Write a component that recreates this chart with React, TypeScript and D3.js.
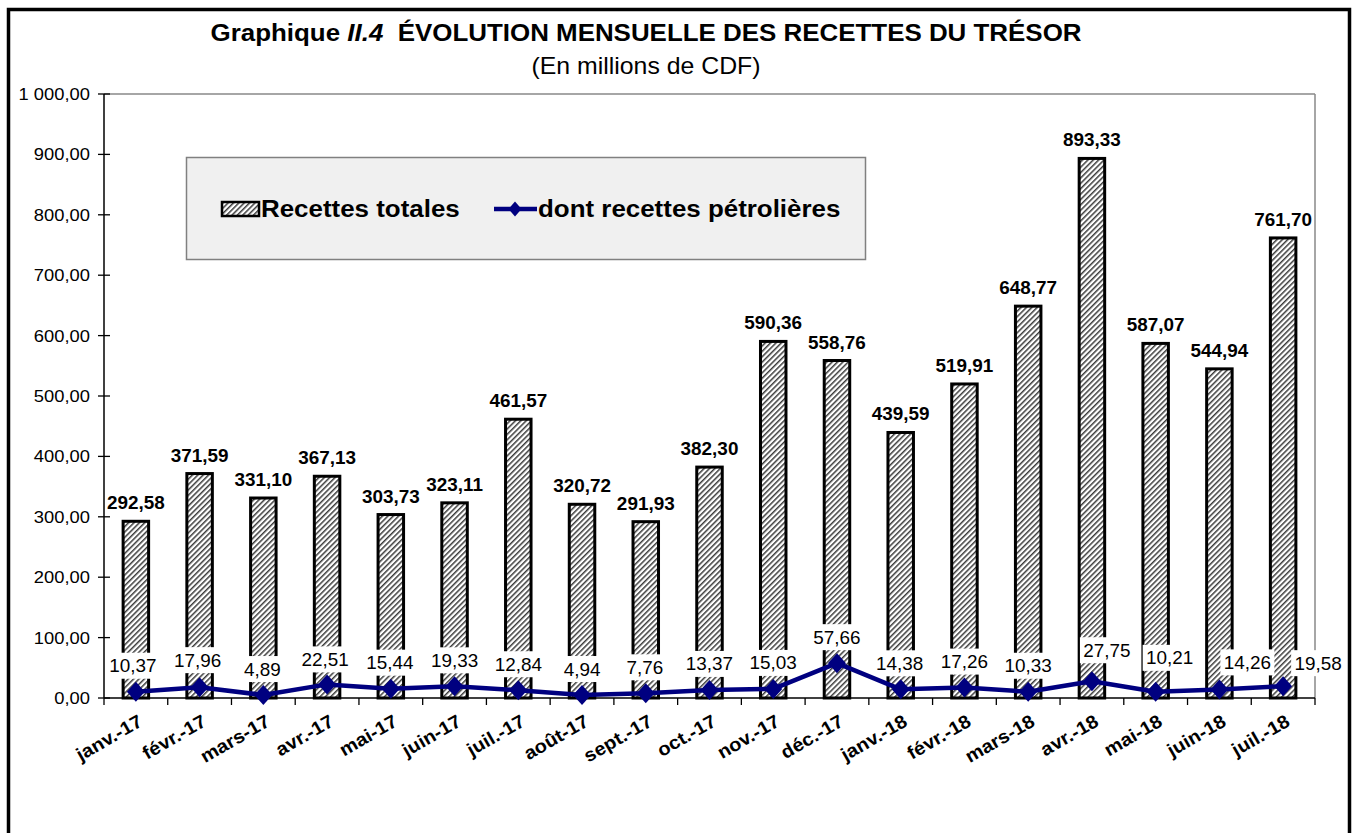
import React from "react";
import * as d3 from "d3";

const categories = ["janv.-17","févr.-17","mars-17","avr.-17","mai-17","juin-17","juil.-17","août-17","sept.-17","oct.-17","nov.-17","déc.-17","janv.-18","févr.-18","mars-18","avr.-18","mai-18","juin-18","juil.-18"];
const totalRevenue = [292.58,371.59,331.10,367.13,303.73,323.11,461.57,320.72,291.93,382.30,590.36,558.76,439.59,519.91,648.77,893.33,587.07,544.94,761.70];
const oilRevenue = [10.37,17.96,4.89,22.51,15.44,19.33,12.84,4.94,7.76,13.37,15.03,57.66,14.38,17.26,10.33,27.75,10.21,14.26,19.58];
const yTicks = [0,100,200,300,400,500,600,700,800,900,1000];
// label nudges for the petroleum series (horizontal shift, lift above point)
const oilLabelDx = [-3,-2,-1,-2,-1,0,0,0,-1,0,0,0,-1,0,0,15,14,28,35];
const oilLabelLift = [26,27,26,25,26,26,26,26,26,26,26,26,26,26,26,31,34,27,23];

const W = 1357, H = 833;
const FONT = "'Liberation Sans', Arial, sans-serif";
const SX = 1.08;
const NAVY = "#000080";

const locale = d3.formatLocale({ decimal: ",", thousands: "\u00a0", grouping: [3], currency: ["", ""] });
const fmt = locale.format(",.2f");

function T({ x, y, anchor = "middle", size, weight = "normal", children, fill = "#000", rotate = 0 }: any) {
  return (
    <g transform={`translate(${x},${y}) rotate(${rotate}) scale(${SX},1)`}>
      <text x={0} y={0} textAnchor={anchor} fontSize={size} fontWeight={weight} fontFamily={FONT} fill={fill}>{children}</text>
    </g>
  );
}

function diamond(cx: number, cy: number, w = 18, h = 20) {
  return `M${cx},${cy - h / 2}L${cx + w / 2},${cy}L${cx},${cy + h / 2}L${cx - w / 2},${cy}Z`;
}

export default function App() {
  const x = d3.scaleBand<string>().domain(categories).range([104, 1315]).padding(0);
  const y = d3.scaleLinear().domain([0, 1000]).range([698, 94]);
  const bw = x.bandwidth();
  const barW = bw * 0.4;
  const cx = (c: string) => (x(c) as number) + bw / 2;
  const line = d3.line<number>().x((_, i) => cx(categories[i])).y((v) => y(v));

  return (
    <div style={{ position: "absolute", left: 0, top: 0, width: W, height: H, overflow: "hidden", background: "#fff" }}>
      <svg width={W} height={H} style={{ display: "block" }}>
        <defs>
          <pattern id="hatch" patternUnits="userSpaceOnUse" width={3.8} height={3.8} patternTransform="rotate(45)">
            <rect width={3.8} height={3.8} fill="#fff" />
            <line x1={0.8} y1={0} x2={0.8} y2={3.8} stroke="#000" strokeWidth={1.15} />
          </pattern>
        </defs>
        <rect x={0} y={0} width={W} height={H} fill="#fff" />
        {/* outer frame */}
        <rect x={8.5} y={9.5} width={1341} height={900} fill="none" stroke="#000" strokeWidth={3.5} />

        {/* titles */}
        <g>
          <g transform={`translate(646,41) scale(${SX},1)`}>
            <text textAnchor="middle" fontSize={24} fontWeight="bold" fontFamily={FONT} fill="#000">
              Graphique <tspan fontStyle="italic">II.4</tspan>{"\u00a0 ÉVOLUTION MENSUELLE DES RECETTES DU TRÉSOR"}
            </text>
          </g>
          <T x={646} y={74} size={23}>(En millions de CDF)</T>
        </g>

        {/* plot area border */}
        <line x1={104} y1={94} x2={1315} y2={94} stroke="#888" strokeWidth={1.5} />
        <line x1={1315} y1={94} x2={1315} y2={698} stroke="#888" strokeWidth={1.5} />

        {/* legend */}
        <rect x={186.5} y={157.5} width={679} height={102} fill="#f0f0f0" stroke="#808080" strokeWidth={1.5} />
        <rect x={222} y={202} width={37} height={14} fill="url(#hatch)" stroke="#000" strokeWidth={2.5} />
        <T x={261} y={217} anchor="start" size={24} weight="bold">Recettes totales</T>
        <line x1={494} y1={209} x2={537} y2={209} stroke={NAVY} strokeWidth={4.5} />
        <path d={diamond(515, 209, 13, 15)} fill={NAVY} />
        <T x={538} y={217} anchor="start" size={24} weight="bold">dont recettes pétrolières</T>

        {/* y axis */}
        <line x1={104} y1={94} x2={104} y2={698} stroke="#000" strokeWidth={1.5} />
        {yTicks.map((t) => (
          <g key={t}>
            <line x1={98} x2={110} y1={y(t)} y2={y(t)} stroke="#000" strokeWidth={1.3} />
            <T x={90} y={y(t) + 6} anchor="end" size={17}>{fmt(t)}</T>
          </g>
        ))}

        {/* bars */}
        {totalRevenue.map((v, i) => (
          <rect key={i} x={cx(categories[i]) - barW / 2} y={y(v)} width={barW} height={y(0) - y(v)}
            fill="url(#hatch)" stroke="#000" strokeWidth={3} />
        ))}
        {totalRevenue.map((v, i) => (
          <T key={i} x={cx(categories[i])} y={y(v) - 12} size={17.5} weight="bold">{fmt(v)}</T>
        ))}

        {/* x axis */}
        <line x1={104} y1={698} x2={1315} y2={698} stroke="#000" strokeWidth={1.5} />
        {d3.range(categories.length + 1).map((i) => (
          <line key={i} x1={104 + i * bw} x2={104 + i * bw} y1={698} y2={705} stroke="#000" strokeWidth={1.3} />
        ))}
        {categories.map((c) => (
          <T key={c} x={cx(c) + 8} y={725} anchor="end" size={18.5} weight="bold" rotate={-30}>{c}</T>
        ))}

        {/* line labels with white boxes */}
        {oilRevenue.map((v, i) => {
          const lx = cx(categories[i]) + oilLabelDx[i];
          const ly = y(v) - oilLabelLift[i];
          return <rect key={i} x={lx - 27} y={ly - 13} width={54} height={26} fill="#fff" />;
        })}
        {oilRevenue.map((v, i) => {
          const lx = cx(categories[i]) + oilLabelDx[i];
          const ly = y(v) - oilLabelLift[i];
          return <T key={i} x={lx} y={ly + 6.5} size={17.5}>{fmt(v)}</T>;
        })}

        {/* petroleum line */}
        <path d={line(oilRevenue) as string} fill="none" stroke={NAVY} strokeWidth={4.5} strokeLinejoin="round" />
        {oilRevenue.map((v, i) => (
          <path key={i} d={diamond(cx(categories[i]), y(v))} fill={NAVY} />
        ))}
      </svg>
    </div>
  );
}
